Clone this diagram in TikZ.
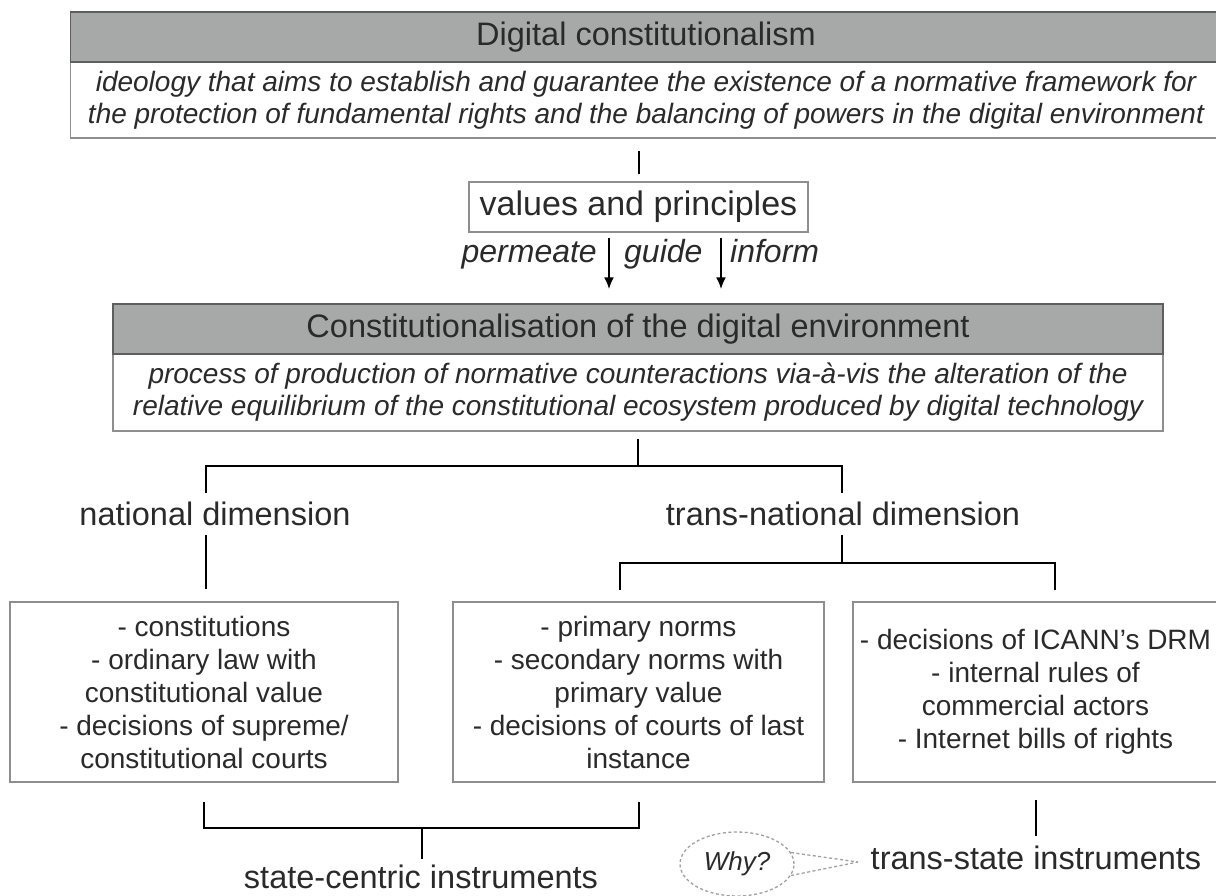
\documentclass[tikz,border=0pt]{standalone}
\usepackage{fontspec}
\setmainfont{Liberation Sans}
\usetikzlibrary{arrows.meta,calc,shapes.geometric}
\definecolor{hdr}{HTML}{A6A9A7}
\definecolor{bord}{HTML}{8E8E8E}
\definecolor{dbord}{HTML}{5E5E5E}
\definecolor{txt}{HTML}{2A2A2A}
\definecolor{dashc}{HTML}{A0A0A0}
\tikzset{
  hdrbox/.style={draw=dbord, line width=1.5pt, fill=hdr, minimum height=50pt, inner sep=0pt, text=txt, font=\fontsize{32.5}{39}\selectfont},
  bodybox/.style={draw=bord, line width=1.5pt, fill=white, inner sep=0pt, align=center, text=txt, font=\fontsize{28}{32}\selectfont\itshape},
  vpbox/.style={draw=bord, line width=2.2pt, minimum width=339pt, minimum height=50pt, inner sep=0pt, text=txt, font=\fontsize{34}{40}\selectfont},
  listbox/.style={draw=bord, line width=1.5pt, minimum height=180pt, inner sep=0pt, align=center, text=txt, font=\fontsize{28}{33}\selectfont},
  lbl/.style={inner sep=0pt, text=txt, font=\fontsize{32.5}{39}\selectfont},
  verb/.style={inner sep=0pt, text=txt, font=\fontsize{32}{38}\selectfont\itshape},
  conn/.style={line width=2pt, black},
  arr/.style={conn, -{Latex[length=12pt,width=10pt]}},
  tail/.style={dashc, line width=1.3pt, dash pattern=on 3pt off 2.5pt},
}
\begin{document}
\begin{tikzpicture}[x=1pt,y=-1pt]
\useasboundingbox (0,0) rectangle (1216,895);
\clip (0,0) rectangle (1216,895);
\fill[white] (0,0) rectangle (1216,895);

% Digital constitutionalism
\node[bodybox, minimum width=1151pt, minimum height=76pt] (dcb) at (646,100)
  {ideology that aims to establish and guarantee the existence of a normative framework for\\
   the protection of fundamental rights and the balancing of powers in the digital environment};
\node[hdrbox, minimum width=1151pt] (dch) at (646,37) {Digital constitutionalism};

% values and principles
\node[vpbox] (vp) at (638.5,207) {values and principles};
\draw[conn] ($(vp.north |- dcb.south)+(0,12)$) -- ($(vp.north)+(0,-7)$);

% Constitutionalisation
\node[bodybox, minimum width=1050pt, minimum height=77pt] (cb) at (638,392.5)
  {process of production of normative counteractions via-à-vis the alteration of the\\
   relative equilibrium of the constitutional ecosystem produced by digital technology};
\node[hdrbox, minimum width=1050pt] (ch) at (638,329) {Constitutionalisation of the digital environment};

% arrows
\draw[arr] ($(vp.south)+(-29.5,5)$) -- ($(ch.north)+(-29,-14)$);
\draw[arr] ($(vp.south)+(82.5,5)$) -- ($(ch.north)+(83,-14)$);
\node[verb, anchor=base east] (pe) at (597,262) {permeate};
\node[verb, anchor=base west] (gu) at (624,262) {guide};
\node[verb, anchor=base west] (in) at (730,262) {inform};

% dimensions
\node[lbl] (nd) at (215,514) {national dimension};
\node[lbl] (tnd) at (843,514) {trans-national dimension};
\coordinate (j1) at (638,466);
\coordinate (nd1) at (206,493);
\coordinate (tn1) at (842,493);
\draw[conn] ($(cb.south)+(0,7)$) -- (j1);
\draw[conn] (nd1) |- (j1) -| (tn1);

% lists
\node[listbox, minimum width=388pt] (lb) at (204,692)
  {- constitutions\\- ordinary law with\\constitutional value\\- decisions of supreme/\\constitutional courts};
\node[listbox, minimum width=371pt] (mb) at (638.5,692)
  {- primary norms\\- secondary norms with\\primary value\\- decisions of courts of last\\instance};
\node[listbox, minimum width=365pt] (rb) at (1035.5,692)
  {- decisions of ICANN's DRM\\- internal rules of\\commercial actors\\- Internet bills of rights};

\coordinate (nd2) at (206,535);
\draw[conn] (nd2) -- ($(nd2 |- lb.north)+(0,-12)$);
\coordinate (tn2) at (842,535);
\coordinate (j2) at (842,563);
\coordinate (m1) at (620,590);
\coordinate (r1) at (1055,590);
\draw[conn] (tn2) -- (j2);
\draw[conn] (m1) |- (j2) -| (r1);

% instruments
\node[lbl] (sc) at (421,877) {state-centric instruments};
\node[lbl] (ts) at (1036,858) {trans-state instruments};
\coordinate (b1) at (204,802);
\coordinate (b2) at (639,802);
\coordinate (j3) at (422,828);
\draw[conn] (b1) |- (j3) -| (b2);
\draw[conn] (j3) -- ($(sc.north)+(1,-6)$);
\draw[conn] ($(ts.north |- rb.south)+(0,17)$) -- ($(ts.north)+(0,-10)$);

% why bubble
\node[ellipse, draw=dashc, line width=1.3pt, dash pattern=on 3pt off 2.5pt,
      minimum width=114pt, minimum height=64pt, inner sep=0pt, text=txt,
      font=\fontsize{26}{30}\selectfont\itshape] (why) at (737,864) {Why?};
\coordinate (tip) at (858,862);
\draw[tail] (why.12) -- (tip);
\draw[tail] (why.-12) -- (tip);
\end{tikzpicture}
\end{document}
